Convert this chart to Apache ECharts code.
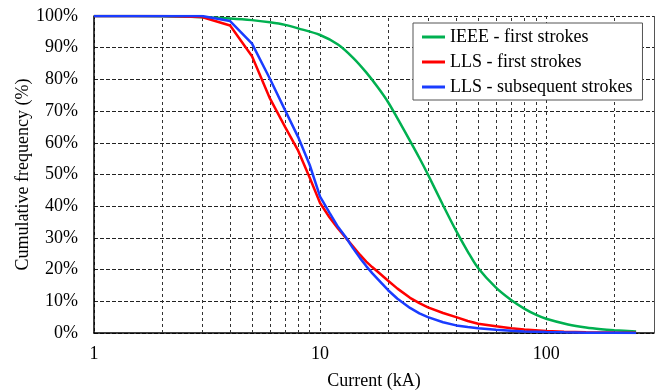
<!DOCTYPE html>
<html>
<head>
<meta charset="utf-8">
<script src="https://cdn.jsdelivr.net/npm/echarts@6/dist/echarts.min.js"></script>
<style>
  html, body { margin: 0; padding: 0; background: #fff; }
  #chart { width: 659px; height: 392px; }
</style>
</head>
<body>
<div id="chart"></div>
<script>
// 电流 (kA) 与累计频率 (%)
const ieeeCurrent = [1, 2, 3, 4, 5, 6, 7, 8, 10, 12, 14, 16, 18, 20, 22, 25, 27.5, 30, 35, 40, 45, 50, 60, 70, 80, 90, 100, 125, 150, 175, 200, 250]
const ieeeFirst = [100, 99.9, 99.6, 99.2, 98.7, 98.0, 97.2, 96.1, 94.0, 91.0, 86.8, 82.2, 77.5, 72.8, 67.7, 60.6, 55.2, 50, 40.3, 32.2, 25.7, 20.5, 14.3, 10.4, 7.7, 5.8, 4.5, 2.7, 1.7, 1.15, 0.85, 0.5]

const llsCurrent = [1, 2, 3, 4, 5, 6, 7, 8, 9, 10, 11, 12, 13, 14, 15, 16, 17, 18, 20, 22, 25, 27.5, 30, 35, 40, 45, 50, 60, 70, 80, 100, 120, 150, 200, 250]
const llsFirst = [100, 100, 99.7, 97.0, 87.3, 74.0, 65.0, 57.5, 49, 41, 36.5, 33, 30, 27.3, 24.7, 22.5, 20.8, 19.3, 16.5, 14, 11.1, 9.4, 8.1, 6.3, 5.0, 3.8, 2.9, 2.1, 1.5, 1.1, 0.6, 0.4, 0.25, 0.15, 0.1]
const llsSubsequent = [100, 100, 100, 98.4, 91.3, 80.2, 70.3, 61.8, 53, 43, 38, 33.5, 30.2, 26.7, 23.7, 21.1, 18.9, 17.0, 13.5, 10.8, 7.9, 6.2, 5.0, 3.4, 2.4, 1.9, 1.5, 1.0, 0.7, 0.5, 0.3, 0.2, 0.1, 0.05, 0]

// 次网格线
const minorLines = [2, 3, 4, 5, 6, 7, 8, 9, 20, 30, 40, 50, 60, 70, 80, 90, 200]

const font = 'Liberation Serif'

const pairs = (xs, ys) => xs.map((x, i) => [x, ys[i]])

const myChart = echarts.init(document.getElementById('chart'))

const options = {
  animation: false,
  textStyle: { fontFamily: font },
  grid: {
    left: 94,
    right: 5,
    top: 16,
    bottom: 59,
    outerBoundsMode: 'none'
  },
  legend: {
    orient: 'vertical',
    left: 413,
    top: 23,
    icon: 'rect',
    itemWidth: 23,
    itemHeight: 3,
    itemGap: 7,
    padding: [5, 10, 4, 9],
    backgroundColor: '#fff',
    borderColor: '#555',
    borderWidth: 1,
    textStyle: { fontFamily: font, fontSize: 18, color: '#000' }
  },
  xAxis: {
    type: 'log',
    logBase: 10,
    min: 1,
    max: 300,
    name: 'Current (kA)',
    nameLocation: 'middle',
    nameGap: 39,
    nameTextStyle: { fontFamily: font, fontSize: 18, color: '#000' },
    axisLine: { lineStyle: { color: '#000', width: 1.5 } },
    axisTick: { show: false },
    axisLabel: { fontFamily: font, fontSize: 18, color: '#000', margin: 12, showMaxLabel: false },
    splitLine: {
      show: true,
      lineStyle: { color: '#333', type: [3, 3], width: 1 }
    }
  },
  yAxis: {
    type: 'value',
    min: 0,
    max: 100,
    interval: 10,
    name: 'Cumulative frequency (%)',
    nameLocation: 'middle',
    nameGap: 62,
    nameMoveOverlap: false,
    nameTextStyle: { fontFamily: font, fontSize: 18, color: '#000' },
    axisLine: { show: true, lineStyle: { color: '#000', width: 1.5 } },
    axisTick: { show: false },
    axisLabel: { fontFamily: font, fontSize: 18, color: '#000', margin: 16, formatter: '{value}%' },
    splitLine: {
      show: true,
      lineStyle: { color: '#222', type: [4, 2], width: 1 }
    }
  },
  series: [
    {
      name: 'IEEE - first strokes',
      type: 'line',
      symbol: 'none',
      smooth: 0.3,
      lineStyle: { color: '#00b050', width: 2.5 },
      itemStyle: { color: '#00b050' },
      data: pairs(ieeeCurrent, ieeeFirst),
      markLine: {
        silent: true,
        z: 1,
        symbol: ['none', 'none'],
        label: { show: false },
        lineStyle: { color: '#333', type: [3, 3], width: 1 },
        data: minorLines.map(v => ({ xAxis: v })).concat([
          { xAxis: 300, lineStyle: { color: '#555', type: 'solid', width: 1 } }
        ])
      }
    },
    {
      name: 'LLS - first strokes',
      type: 'line',
      symbol: 'none',
      lineStyle: { color: '#ff0000', width: 2.5 },
      itemStyle: { color: '#ff0000' },
      data: pairs(llsCurrent, llsFirst)
    },
    {
      name: 'LLS - subsequent strokes',
      type: 'line',
      symbol: 'none',
      lineStyle: { color: '#1a3cff', width: 2.5 },
      itemStyle: { color: '#1a3cff' },
      data: pairs(llsCurrent, llsSubsequent)
    }
  ]
}
myChart.setOption(options)
</script>
</body>
</html>
